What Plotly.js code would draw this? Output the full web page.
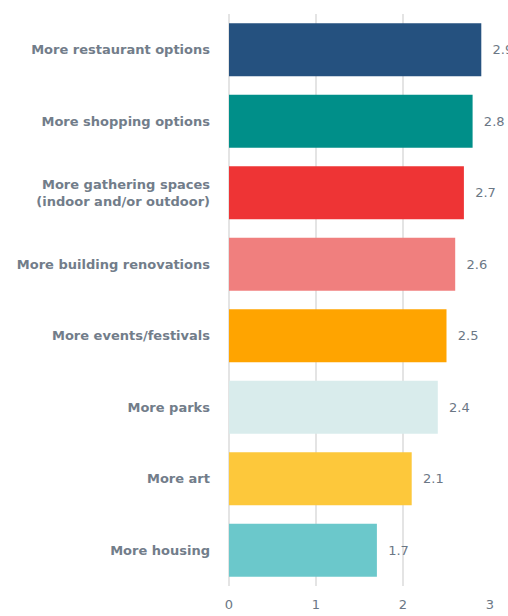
<!DOCTYPE html>
<html><head><meta charset="utf-8">
<script src="https://cdn.plot.ly/plotly-3.0.1.min.js"></script>
<style>html,body{margin:0;padding:0;background:#fff;}#chart{width:508px;height:616px;}</style>
</head><body><div id="chart"></div>
<script>
const categories = ["More restaurant options","More shopping options","More gathering spaces<br>(indoor and/or outdoor)","More building renovations","More events/festivals","More parks","More art","More housing"];
const values = [2.9, 2.8, 2.7, 2.6, 2.5, 2.4, 2.1, 1.7];
const labels = ["2.9","2.8","2.7","2.6","2.5","2.4","2.1","1.7"];
const colors = ["#25517f","#008f89","#ee3435","#f07f7e","#ffa400","#d9ecec","#fdc83b","#6bc8cb"];
const xticks = [0,1,2,3];

Plotly.newPlot("chart", [{
  type: "bar", orientation: "h",
  y: categories, x: values,
  text: labels.map(s => "  " + s), textposition: "outside", cliponaxis: false,
  textfont: {family: "DejaVu Sans", size: 13, color: "#6b7785"},
  marker: {color: colors}, width: 0.74, hoverinfo: "none"
}], {
  width: 508, height: 616,
  margin: {l: 229, r: 18, t: 14, b: 30},
  paper_bgcolor: "#fff", plot_bgcolor: "#fff",
  showlegend: false,
  font: {family: "DejaVu Sans", color: "#6b7785"},
  xaxis: {range: [0, 3], tickvals: xticks, ticktext: xticks.map(String), showgrid: true, gridcolor: "#e4e4e4", gridwidth: 1.5, zeroline: true, zerolinecolor: "#e4e4e4", zerolinewidth: 1.5, showline: false, ticks: "", ticklabelstandoff: 9, automargin: false, tickfont: {size: 13, color: "#6b7785"}, fixedrange: true},
  yaxis: {autorange: "reversed", type: "category", showgrid: false, zeroline: false, ticks: "", ticklabelstandoff: 18, automargin: false, tickfont: {size: 13, color: "#727d8a", weight: "bold"}, fixedrange: true}
}, {displayModeBar: false, staticPlot: true});
</script></body></html>
